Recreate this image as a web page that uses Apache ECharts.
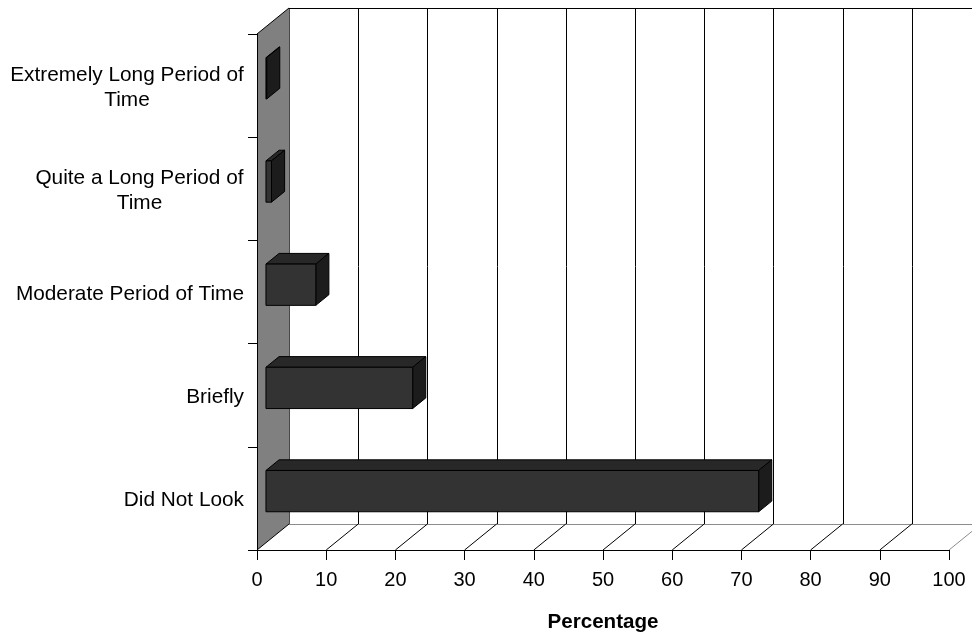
<!DOCTYPE html>
<html>
<head>
<meta charset="utf-8">
<script src="https://cdn.jsdelivr.net/npm/echarts@6/dist/echarts.min.js"></script>
<style>
  html, body { margin: 0; padding: 0; background: #ffffff; }
  #chart { width: 972px; height: 638px; }
</style>
</head>
<body>
<div id="chart"></div>
<script>
// Categories listed bottom to top
const categories = [
  'Did Not Look',
  'Briefly',
  'Moderate Period of Time',
  'Quite a Long Period of\nTime',
  'Extremely Long Period of\nTime'
];
const percentages = [71.2, 21.2, 7.2, 0.8, 0.1];
const percentTicks = [0, 10, 20, 30, 40, 50, 60, 70, 80, 90, 100];
const axisTitle = 'Percentage';

// 3D box geometry (pixels)
const DEPTH = [32, -26];       // offset from front plane to back wall
const BAR_FRONT = 0.28;        // bar front face position along depth
const BAR_DEPTH = 0.41;        // bar thickness along depth
const BAR_HEIGHT = 0.4;        // bar height as share of category band

const FONT = 'Liberation Sans';
const TICK_SIZE = 20;
const CAT_SIZE = 20.8;
const LINE_H = 25;

// Multi-line category labels: centre each line inside the label block
const measureCtx = document.createElement('canvas').getContext('2d');
measureCtx.font = CAT_SIZE + 'px "' + FONT + '"';
const labelRich = {};
categories.forEach((c, i) => {
  const w = Math.max(...c.split('\n').map(l => measureCtx.measureText(l).width));
  labelRich['c' + i] = {
    width: Math.ceil(w), align: 'center',
    fontFamily: FONT, fontSize: CAT_SIZE, color: '#000', lineHeight: LINE_H
  };
});
function formatCategory(value, index) {
  if (value.indexOf('\n') < 0) return value;
  return value.split('\n').map(l => '{c' + index + '|' + l + '}').join('\n');
}

const crisp = v => Math.round(v) + 0.5;

function renderFrame(params, api) {
  const cs = params.coordSys;
  const dx = DEPTH[0], dy = DEPTH[1];
  const xL = cs.x, yT = cs.y, yB = cs.y + cs.height;
  const xMax = api.coord([percentTicks[percentTicks.length - 1], 0])[0];
  const children = [];
  // left side wall
  children.push({
    type: 'polygon',
    shape: { points: [[xL, yT], [xL + dx, yT + dy], [xL + dx, yB + dy], [xL, yB]] },
    style: { fill: '#808080', stroke: null }
  });
  // back wall gridlines
  percentTicks.forEach(t => {
    const x = crisp(api.coord([t, 0])[0] + dx);
    children.push({
      type: 'line',
      shape: { x1: x, y1: crisp(yT + dy), x2: x, y2: crisp(yB + dy) },
      style: { stroke: t === 0 ? '#4a4a4a' : '#000', lineWidth: 1 }
    });
  });
  // top edge of back wall
  children.push({
    type: 'line',
    shape: { x1: xL + dx, y1: crisp(yT + dy), x2: xMax + dx, y2: crisp(yT + dy) },
    style: { stroke: '#000', lineWidth: 1 }
  });
  // top edge of side wall
  children.push({
    type: 'line',
    shape: { x1: xL, y1: yT, x2: xL + dx, y2: yT + dy },
    style: { stroke: '#000', lineWidth: 1 }
  });
  // back edge of floor
  children.push({
    type: 'line',
    shape: { x1: xL + dx, y1: crisp(yB + dy), x2: xMax + dx, y2: crisp(yB + dy) },
    style: { stroke: '#8c8c8c', lineWidth: 1 }
  });
  // floor gridlines
  percentTicks.forEach((t, i) => {
    const x = api.coord([t, 0])[0];
    const last = i === percentTicks.length - 1;
    children.push({
      type: 'line',
      shape: { x1: x, y1: yB, x2: x + dx, y2: yB + dy },
      style: { stroke: last ? '#8c8c8c' : '#000', lineWidth: 1 }
    });
  });
  return { type: 'group', children };
}

function renderBar(params, api) {
  const v = api.value(0), idx = api.value(1);
  const base = api.coord([0, idx]);
  const end = api.coord([v, idx]);
  const band = api.size([0, 1])[1];
  const h = band * BAR_HEIGHT;
  const ox = DEPTH[0] * BAR_FRONT, oy = DEPTH[1] * BAR_FRONT;
  const bx = DEPTH[0] * BAR_DEPTH, by = DEPTH[1] * BAR_DEPTH;
  const xl = base[0] + ox, xr = end[0] + ox;
  const yt = base[1] + oy - h / 2, yb = yt + h;
  const edge = { stroke: '#000', lineWidth: 1, lineJoin: 'round' };
  return {
    type: 'group',
    children: [
      { type: 'polygon', shape: { points: [[xl, yt], [xl + bx, yt + by], [xr + bx, yt + by], [xr, yt]] },
        style: Object.assign({ fill: '#282828' }, edge) },
      { type: 'polygon', shape: { points: [[xr, yt], [xr + bx, yt + by], [xr + bx, yb + by], [xr, yb]] },
        style: Object.assign({ fill: '#1c1c1c' }, edge) },
      { type: 'rect', shape: { x: xl, y: yt, width: xr - xl, height: h },
        style: Object.assign({ fill: '#333333' }, edge) }
    ]
  };
}

const chart = echarts.init(document.getElementById('chart'), null, { renderer: 'canvas' });
chart.setOption({
  backgroundColor: '#ffffff',
  animation: false,
  textStyle: { fontFamily: FONT },
  grid: { left: 257, right: 23, top: 34, bottom: 88, containLabel: false },
  xAxis: {
    type: 'value', min: 0, max: 100, interval: 10, z: 3,
    axisLine: { show: true, lineStyle: { color: '#000', width: 1 } },
    axisTick: { show: true, length: 10, lineStyle: { color: '#000' } },
    axisLabel: { color: '#000', fontSize: TICK_SIZE, fontFamily: FONT, margin: 20 },
    splitLine: { show: false },
    name: axisTitle, nameLocation: 'middle', nameGap: 62,
    nameTextStyle: { color: '#000', fontSize: 20.6, fontWeight: 'bold', fontFamily: FONT }
  },
  yAxis: {
    type: 'category', data: categories, boundaryGap: true, z: 3,
    axisLine: { show: true, lineStyle: { color: '#000', width: 1 } },
    axisTick: { show: true, length: 9, lineStyle: { color: '#000' } },
    axisLabel: {
      color: '#000', fontSize: CAT_SIZE, fontFamily: FONT, margin: 13, lineHeight: LINE_H,
      padding: [4, 0, 0, 0],
      formatter: formatCategory, rich: labelRich
    },
    splitLine: { show: false }
  },
  series: [
    {
      type: 'custom', z: 1, silent: true, clip: false,
      renderItem: renderFrame, data: [[0, 0]]
    },
    {
      type: 'custom', z: 5, clip: false,
      renderItem: renderBar,
      encode: { x: 0, y: 1 },
      data: percentages.map((v, i) => [v, i])
    }
  ]
});
</script>
</body>
</html>
